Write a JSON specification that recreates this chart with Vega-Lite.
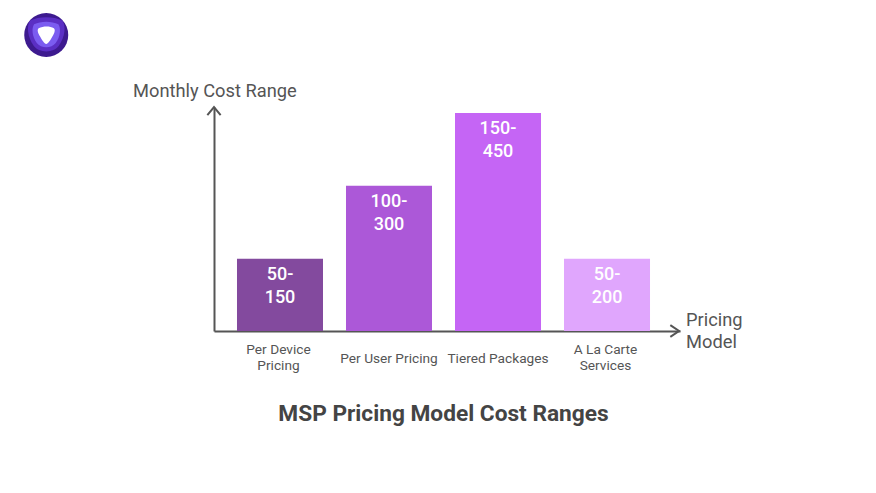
{
  "$schema": "https://vega.github.io/schema/vega-lite/v6.json",
  "width": 466,
  "height": 224,
  "autosize": "none",
  "padding": {"left": 214, "top": 107, "right": 196, "bottom": 162},
  "background": "white",
  "title": {
    "text": "MSP Pricing Model Cost Ranges",
    "orient": "bottom",
    "anchor": "middle",
    "dx": -3.5,
    "offset": 31,
    "font": "Roboto",
    "fontSize": 22.7,
    "fontWeight": 700,
    "color": "#444444"
  },
  "config": {
    "view": {"stroke": null},
    "font": "Roboto"
  },
  "datasets": {
    "models": [
      {"model": "Per Device|Pricing", "top": 149, "range": "50-|150"},
      {"model": "Per User Pricing", "top": 300, "range": "100-|300"},
      {"model": "Tiered Packages", "top": 450, "range": "150-|450"},
      {"model": "A La Carte|Services", "top": 149, "range": "50-|200"}
    ],
    "arrows": [
      {"pos": 0, "level": 462.4, "dir": "up"},
      {"pos": 0.998, "level": 0, "dir": "right"}
    ],
    "logo": [
      {"pos": -0.36, "level": 611}
    ]
  },
  "resolve": {
    "scale": {"x": "independent", "y": "independent", "color": "independent", "shape": "independent"},
    "axis": {"x": "independent", "y": "independent"}
  },
  "layer": [
    {
      "data": {"name": "models"},
      "encoding": {
        "x": {
          "field": "model",
          "type": "nominal",
          "sort": null,
          "scale": {"paddingInner": 0.211, "paddingOuter": 0.243, "align": 0.434},
          "axis": {
            "title": ["Pricing", "Model"],
            "titleX": 471.5,
            "titleY": -11,
            "titleAlign": "left",
            "titleBaseline": "middle",
            "titleFontSize": 18.3,
            "titleFontWeight": 400,
            "titleColor": "#555555",
            "titleLineHeight": 22,
            "titleFont": "Roboto",
            "labelAngle": 0,
            "labelExpr": "split(datum.label, '|')",
            "labelFontSize": 13.7,
            "labelColor": "#555555",
            "labelFont": "Roboto",
            "labelBaseline": "middle",
            "labelLineHeight": 16,
            "labelPadding": {"condition": {"test": "indexof(datum.value, '|') >= 0", "value": 18}, "value": 27},
            "labelOffset": {"condition": {"test": "indexof(datum.value, '|') >= 0", "value": -1.5}, "value": 0},
            "labelLimit": 0,
            "ticks": false,
            "domainColor": "#555555",
            "domainWidth": 2
          }
        },
        "y": {
          "field": "top",
          "type": "quantitative",
          "scale": {"domain": [0, 462.4], "nice": false},
          "axis": {
            "title": "Monthly Cost Range",
            "titleAngle": 0,
            "titleX": -81.5,
            "titleY": -16,
            "titleAlign": "left",
            "titleBaseline": "middle",
            "titleFontSize": 18.3,
            "titleFontWeight": 400,
            "titleColor": "#555555",
            "titleFont": "Roboto",
            "labels": false,
            "ticks": false,
            "grid": false,
            "domainColor": "#555555",
            "domainWidth": 2
          }
        }
      },
      "layer": [
        {
          "mark": {"type": "bar"},
          "encoding": {
            "color": {
              "field": "model",
              "type": "nominal",
              "sort": null,
              "legend": null,
              "scale": {
                "domain": ["Per Device|Pricing", "Per User Pricing", "Tiered Packages", "A La Carte|Services"],
                "range": ["#834a9e", "#ac58d8", "#c565f5", "#e0a6fd"]
              }
            }
          }
        },
        {
          "transform": [{"calculate": "split(datum.range, '|')", "as": "rangeLines"}],
          "mark": {
            "type": "text",
            "baseline": "top",
            "yOffset": 7,
            "fontSize": 18,
            "fontWeight": 500,
            "lineHeight": 23,
            "color": "white",
            "font": "Roboto"
          },
          "encoding": {"text": {"field": "rangeLines"}}
        }
      ]
    },
    {
      "data": {"name": "arrows"},
      "mark": {"type": "point", "filled": false, "stroke": "#555555", "strokeWidth": 2, "opacity": 1, "size": 196},
      "encoding": {
        "x": {"field": "pos", "type": "quantitative", "scale": {"domain": [0, 1]}, "axis": null},
        "y": {"field": "level", "type": "quantitative", "scale": {"domain": [0, 462.4], "nice": false}, "axis": null},
        "shape": {
          "field": "dir",
          "type": "nominal",
          "legend": null,
          "scale": {
            "domain": ["up", "right"],
            "range": ["M-0.95,1.15L0,0L0.95,1.15", "M-1.25,-0.85L0,0L-1.25,0.85"]
          }
        }
      }
    },
    {
      "data": {"name": "logo"},
      "encoding": {
        "x": {"field": "pos", "type": "quantitative", "scale": {"domain": [0, 1]}, "axis": null},
        "y": {"field": "level", "type": "quantitative", "scale": {"domain": [0, 462.4], "nice": false}, "axis": null}
      },
      "layer": [
        {"mark": {"type": "point", "filled": true, "opacity": 1, "shape": "circle", "size": 1936, "color": "#3d1a8f"}},
        {"mark": {"type": "point", "filled": true, "opacity": 1, "shape": "M-0.9,-0.8C-0.4,-1.05 0.4,-1.05 0.9,-0.8C1.1,-0.5 1.05,0.1 0.7,0.6C0.4,1.02 -0.4,1.02 -0.7,0.6C-1.05,0.1 -1.1,-0.5 -0.9,-0.8Z", "size": 1296, "color": "#5b2fc4"}},
        {"mark": {"type": "point", "filled": true, "opacity": 1, "shape": "M-0.9,-0.8C-0.4,-1.05 0.4,-1.05 0.9,-0.8C1.1,-0.5 1.05,0.1 0.7,0.6C0.4,1.02 -0.4,1.02 -0.7,0.6C-1.05,0.1 -1.1,-0.5 -0.9,-0.8Z", "size": 729, "color": "#7b5cf0"}},
        {"mark": {"type": "point", "filled": true, "opacity": 1, "shape": "M-0.85,-0.75C-0.3,-1 0.4,-1 0.85,-0.75C1.05,-0.55 0.9,-0.2 0.7,0.15C0.45,0.6 0.2,1 0,1C-0.2,1 -0.45,0.6 -0.7,0.15C-0.9,-0.2 -1.05,-0.55 -0.85,-0.75Z", "size": 324, "color": "#ffffff"}}
      ]
    }
  ]
}
